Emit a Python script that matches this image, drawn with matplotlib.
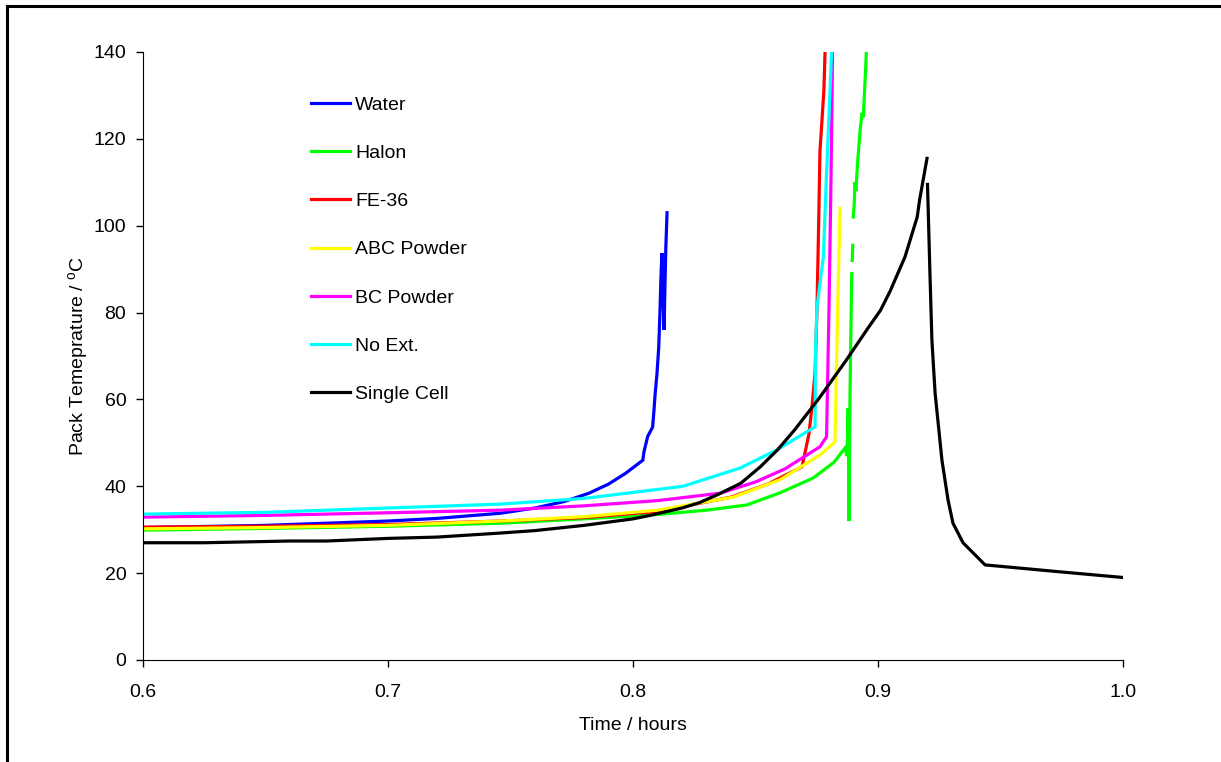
import numpy as np
import matplotlib
matplotlib.use("Agg")
import matplotlib.pyplot as plt
from matplotlib.lines import Line2D

plt.rcParams['font.family'] = ['Liberation Sans', 'DejaVu Sans']
plt.rcParams['mathtext.fontset'] = 'custom'
plt.rcParams['mathtext.rm'] = 'Liberation Sans'

nan = np.nan

# pack temperature vs time for each extinguisher test
t_water = [0.600, 0.650, 0.675, 0.700, 0.720, 0.746, 0.760, 0.772, 0.782, 0.790, 0.797, 0.804,
           0.8045, 0.806, 0.808, 0.8085, 0.809, 0.8098, 0.8105, 0.8110, 0.8114, 0.8118,
           0.8121, 0.8127, 0.8130, 0.8134, 0.8139]
T_water = [30.5, 31.0, 31.5, 32.0, 32.6, 33.8, 35.0, 36.5, 38.4, 40.5, 43.0, 46.0,
           48.0, 51.5, 53.6, 57.0, 61.0, 66.0, 72.0, 80.0, 88.0, 93.7,
           86.0, 76.0, 85.0, 95.0, 103.0]

t_halon = [0.600, 0.650, 0.700, 0.746, 0.780, 0.810, 0.830, 0.8465, 0.860, 0.8735, 0.882, 0.8865,
           0.8874, 0.8878, 0.8880, 0.8882, 0.8884, 0.8886, 0.8888, 0.8890, 0.8892, 0.8893, nan,
           0.8895, 0.8897, nan, 0.8899, 0.8903, 0.8906, 0.8910, 0.8916, 0.8927, 0.8935,
           0.8940, 0.8946, 0.8951, 0.8953]
T_halon = [29.9, 30.3, 30.8, 31.5, 32.5, 33.5, 34.5, 35.7, 38.5, 41.9, 45.5, 48.8,
           47.0, 58.0, 45.0, 32.0, 50.0, 62.0, 70.0, 78.0, 86.0, 89.0, nan,
           92.0, 95.5, nan, 102.0, 105.0, 110.0, 108.0, 114.0, 122.0, 126.0,
           125.0, 132.0, 138.0, 141.0]

t_fe36 = [0.600, 0.650, 0.700, 0.746, 0.780, 0.810, 0.840, 0.855, 0.869, 0.8718, 0.8730,
          0.8743, 0.8751, 0.8759, 0.8763, 0.8779, 0.8785]
T_fe36 = [30.6, 30.8, 31.2, 32.0, 32.8, 34.2, 37.5, 40.5, 44.5, 52.0, 58.0,
          66.0, 81.0, 104.0, 117.0, 131.0, 142.0]

t_abc = [0.600, 0.650, 0.700, 0.746, 0.780, 0.810, 0.8408, 0.860, 0.8763, 0.8824, 0.8828,
         0.8835, 0.8845]
T_abc = [30.2, 30.5, 31.0, 32.0, 33.0, 34.5, 37.5, 41.5, 47.2, 50.2, 60.0,
         80.0, 104.0]

t_bc = [0.600, 0.650, 0.700, 0.746, 0.780, 0.810, 0.8355, 0.850, 0.862, 0.8763, 0.8790,
        0.8800, 0.8808, 0.8815]
T_bc = [32.9, 33.3, 33.9, 34.5, 35.5, 36.7, 38.4, 41.0, 44.0, 49.1, 51.4,
        81.0, 110.0, 142.0]

t_noext = [0.600, 0.650, 0.700, 0.746, 0.780, 0.8204, 0.8437, 0.8588, 0.8743, 0.8745,
           0.8751, 0.8777, 0.8790, 0.8811]
T_noext = [33.6, 34.0, 35.0, 35.9, 37.2, 40.0, 44.2, 48.4, 53.7, 71.4,
           81.3, 92.9, 112.0, 140.5]

t_single = [0.600, 0.625, 0.660, 0.675, 0.700, 0.720, 0.745, 0.760, 0.780, 0.800, 0.807,
            0.820, 0.827, 0.835, 0.844, 0.852, 0.859, 0.866, 0.876, 0.887, 0.896, 0.901,
            0.905, 0.911, 0.916, 0.917, 0.920, nan, 0.9202, 0.9205, 0.9212, 0.9220, 0.9233,
            0.9261, 0.9286, 0.9306, 0.9347, 0.9437, 0.9743, 1.000]
T_single = [27.0, 27.0, 27.4, 27.4, 28.0, 28.3, 29.2, 29.8, 31.0, 32.5, 33.3,
            35.0, 36.2, 38.2, 40.7, 44.5, 48.4, 53.0, 60.3, 69.0, 76.5, 80.5,
            85.0, 92.8, 102.0, 106.0, 115.5, nan, 109.5, 103.5, 89.0, 73.7, 61.5,
            46.0, 36.8, 31.5, 27.0, 21.9, 20.3, 19.0]

series = [
    ("Water", t_water, T_water, "#0000FF"),
    ("Halon", t_halon, T_halon, "#00FF00"),
    ("FE-36", t_fe36, T_fe36, "#FF0000"),
    ("ABC Powder", t_abc, T_abc, "#FFFF00"),
    ("BC Powder", t_bc, T_bc, "#FF00FF"),
    ("No Ext.", t_noext, T_noext, "#00FFFF"),
    ("Single Cell", t_single, T_single, "#000000"),
]

fig = plt.figure(figsize=(12.21, 7.62), dpi=100)
ax = fig.add_axes([143/1221, 1 - 660/762, 980/1221, 608/762])

for name, t, T, c in series:
    ax.plot(t, T, color=c, lw=2.3, label=name, solid_joinstyle='miter')

ax.set_xlim(0.6, 1.0)
ax.set_ylim(0, 140)
ax.set_xticks([0.6, 0.7, 0.8, 0.9, 1.0])
ax.set_xticklabels(["0.6", "0.7", "0.8", "0.9", "1.0"])
ax.set_yticks(range(0, 141, 20))
ax.spines['top'].set_visible(False)
ax.spines['right'].set_visible(False)
ax.tick_params(direction='out', length=5, width=1, labelsize=14, pad=7)
ax.tick_params(axis='x', pad=12)

ax.set_xlabel("Time / hours", fontsize=14, labelpad=12)
ax.set_ylabel(r"Pack Temeprature / $^{\mathrm{o}}$C", fontsize=14, labelpad=2)

ax.legend(loc='upper left', bbox_to_anchor=(0.171, 0.927), frameon=False,
          fontsize=14, handlelength=2.05, handletextpad=0.25, labelspacing=1.57,
          borderpad=0, borderaxespad=0)

# outer frame
fig.add_artist(Line2D([7.5/1221, 7.5/1221], [0, 1 - 5.5/762], color='black', lw=2.2,
                      transform=fig.transFigure))
fig.add_artist(Line2D([6.5/1221, 1.0], [1 - 5.5/762, 1 - 5.5/762], color='black', lw=2.2,
                      transform=fig.transFigure))

fig.savefig("out.png", dpi=100)
